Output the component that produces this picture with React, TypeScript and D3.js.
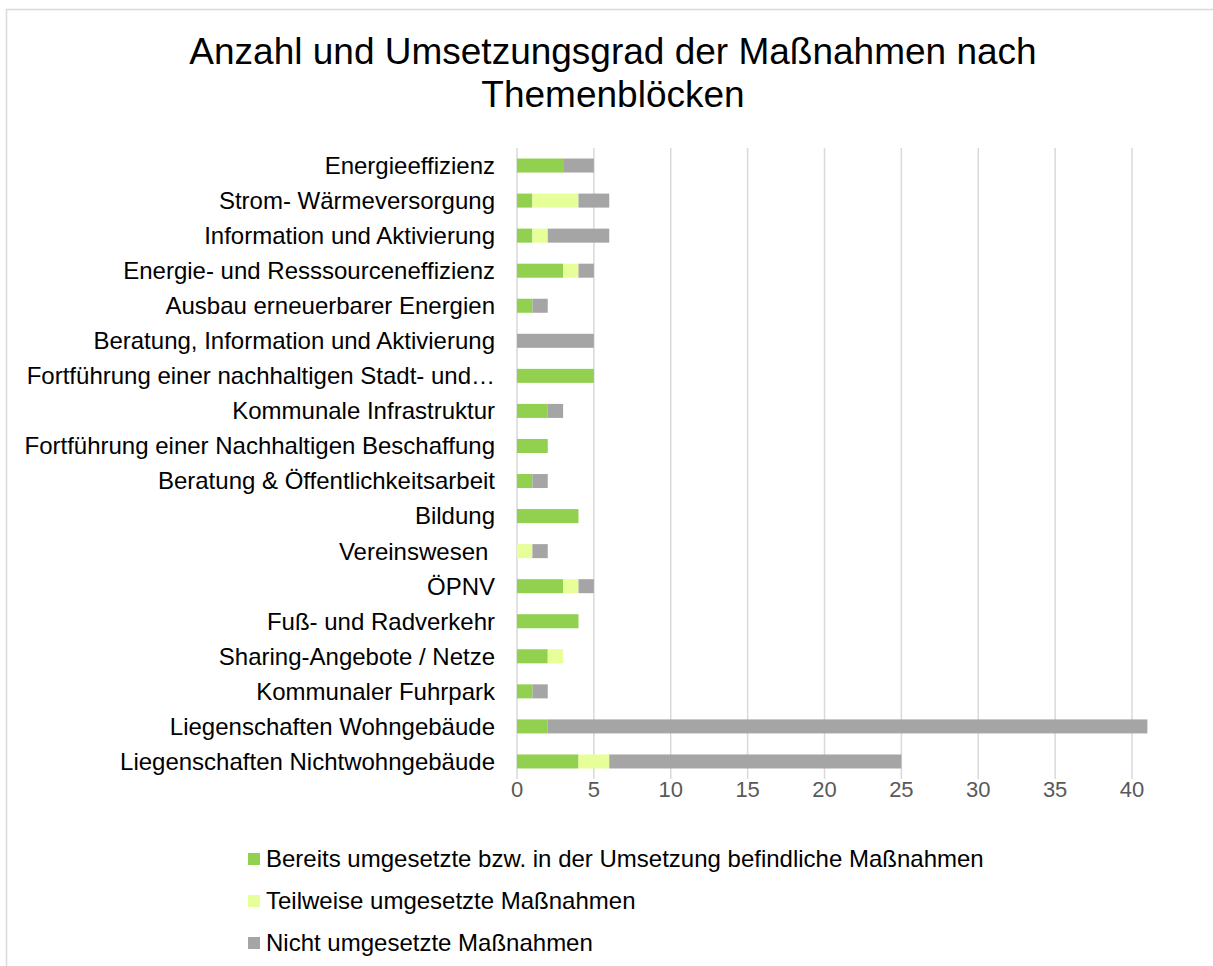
import { useEffect, useRef } from "react";
import * as d3 from "d3";

const categories = [
  "Energieeffizienz",
  "Strom- Wärmeversorgung",
  "Information und Aktivierung",
  "Energie- und Resssourceneffizienz",
  "Ausbau erneuerbarer Energien",
  "Beratung, Information und Aktivierung",
  "Fortführung einer nachhaltigen Stadt- und…",
  "Kommunale Infrastruktur",
  "Fortführung einer Nachhaltigen Beschaffung",
  "Beratung & Öffentlichkeitsarbeit",
  "Bildung",
  "Vereinswesen ",
  "ÖPNV",
  "Fuß- und Radverkehr",
  "Sharing-Angebote / Netze",
  "Kommunaler Fuhrpark",
  "Liegenschaften Wohngebäude",
  "Liegenschaften Nichtwohngebäude",
];

const umgesetzt = [3, 1, 1, 3, 1, 0, 5, 2, 2, 1, 4, 0, 3, 4, 2, 1, 2, 4];
const teilweise = [0, 3, 1, 1, 0, 0, 0, 0, 0, 0, 0, 1, 1, 0, 1, 0, 0, 2];
const nicht = [2, 2, 4, 1, 1, 5, 0, 1, 0, 1, 0, 1, 1, 0, 0, 1, 39, 19];

const seriesNames = [
  "Bereits umgesetzte bzw. in der Umsetzung befindliche Maßnahmen",
  "Teilweise umgesetzte Maßnahmen",
  "Nicht umgesetzte Maßnahmen",
];
const colors = ["#92d050", "#e6ff99", "#a5a5a5"];
const xTicks = [0, 5, 10, 15, 20, 25, 30, 35, 40];

const W = 1213;
const H = 966;
const FONT = "'Liberation Sans', Arial, sans-serif";

const App = () => {
  const ref = useRef<SVGSVGElement>(null);

  useEffect(() => {
    const svg = d3.select(ref.current);
    svg.selectAll("*").remove();

    const left = 517;
    const right = 1132;
    const top = 148;
    const bottom = 779;

    // chart frame (runs off the right and bottom of the picture)
    svg
      .append("rect")
      .attr("x", 6.5)
      .attr("y", 9.5)
      .attr("width", W + 20)
      .attr("height", H + 20)
      .attr("fill", "#fff")
      .attr("stroke", "#d9d9d9")
      .attr("stroke-width", 1.5);

    const title = svg
      .append("text")
      .attr("text-anchor", "middle")
      .attr("font-family", FONT)
      .attr("font-size", 37)
      .attr("fill", "#000");
    title.append("tspan").attr("x", 613).attr("y", 64).text("Anzahl und Umsetzungsgrad der Maßnahmen nach");
    title.append("tspan").attr("x", 613).attr("y", 107).text("Themenblöcken");

    const x = d3.scaleLinear().domain([0, 40]).range([left, right]);
    const y = d3
      .scaleBand()
      .domain(categories)
      .range([top, bottom])
      .paddingInner(0.6)
      .paddingOuter(0.3);

    // gridlines
    svg
      .append("g")
      .selectAll("line")
      .data(xTicks)
      .join("line")
      .attr("x1", (d) => x(d))
      .attr("x2", (d) => x(d))
      .attr("y1", top)
      .attr("y2", bottom)
      .attr("stroke", "#d9d9d9")
      .attr("stroke-width", 1.5);

    // tick labels
    svg
      .append("g")
      .selectAll("text")
      .data(xTicks)
      .join("text")
      .attr("x", (d) => x(d))
      .attr("y", 789)
      .attr("dy", "0.35em")
      .attr("text-anchor", "middle")
      .attr("font-family", FONT)
      .attr("font-size", 22)
      .attr("fill", "#595959")
      .text((d) => d);

    // category labels
    svg
      .append("g")
      .selectAll("text")
      .data(categories)
      .join("text")
      .attr("x", 495)
      .attr("y", (d) => y(d)! + y.bandwidth() / 2)
      .attr("dy", "0.35em")
      .attr("text-anchor", "end")
      .attr("font-family", FONT)
      .attr("font-size", 24)
      .attr("fill", "#000")
      .style("white-space", "pre")
      .text((d) => d);

    const rows = categories.map((c, i) => ({
      cat: c,
      umgesetzt: umgesetzt[i],
      teilweise: teilweise[i],
      nicht: nicht[i],
    }));
    const stack = d3.stack<any>().keys(["umgesetzt", "teilweise", "nicht"])(rows);

    svg
      .append("g")
      .selectAll("g")
      .data(stack)
      .join("g")
      .attr("fill", (_, i) => colors[i])
      .selectAll("rect")
      .data((s) => s.filter((d) => d[1] > d[0]))
      .join("rect")
      .attr("x", (d) => x(d[0]))
      .attr("width", (d) => x(d[1]) - x(d[0]))
      .attr("y", (d) => y(d.data.cat)!)
      .attr("height", y.bandwidth());

    // legend
    const legend = svg
      .append("g")
      .selectAll("g")
      .data(seriesNames)
      .join("g")
      .attr("transform", (_, i) => `translate(248, ${859 + i * 42})`);
    legend
      .append("rect")
      .attr("x", 0)
      .attr("y", -6)
      .attr("width", 12)
      .attr("height", 12)
      .attr("fill", (_, i) => colors[i]);
    legend
      .append("text")
      .attr("x", 18)
      .attr("dy", "0.35em")
      .attr("font-family", FONT)
      .attr("font-size", 24)
      .attr("fill", "#000")
      .text((d) => d);
  }, []);

  return (
    <svg
      ref={ref}
      width={W}
      height={H}
      style={{ position: "absolute", left: 0, top: 0, display: "block" }}
    ></svg>
  );
};

export default App;
